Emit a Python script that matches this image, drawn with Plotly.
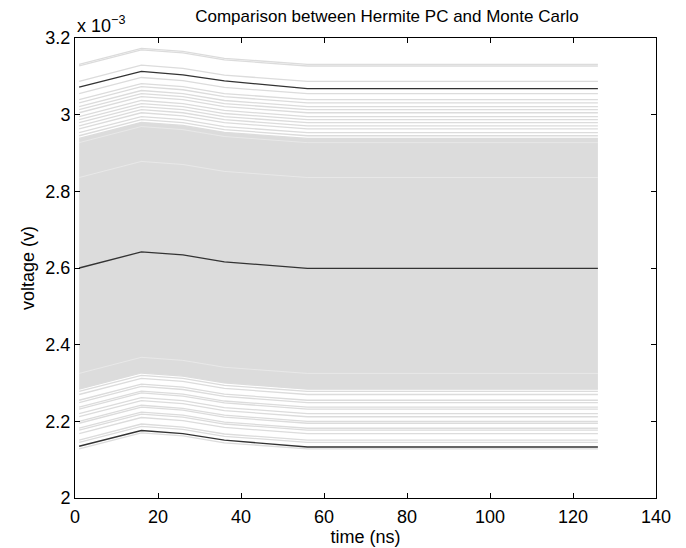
import plotly.graph_objects as go

# time samples (ns)
time_ns = [1, 16, 26, 36, 56, 126]
# common transient shape (offset from settled level, x1e-3 V)
shape_offset = [0.0, 0.042, 0.034, 0.016, 0.0, 0.0]

# Hermite PC curves (x1e-3 V)
pc_mean = [2.600, 2.642, 2.634, 2.616, 2.599, 2.599]
pc_upper = [3.072, 3.113, 3.104, 3.088, 3.068, 3.068]
pc_lower = [2.135, 2.176, 2.168, 2.151, 2.133, 2.133]

# Monte Carlo sample settled levels (x1e-3 V), outer sparse samples
mc_levels_upper = [3.131, 3.127, 3.087, 3.055, 3.039, 3.031, 3.021, 3.013, 3.005,
                   2.995, 2.987, 2.979, 2.971, 2.963, 2.953, 2.945]
mc_levels_lower = [2.278, 2.270, 2.255, 2.249, 2.237, 2.232, 2.220, 2.212, 2.200,
                   2.195, 2.182, 2.177, 2.168, 2.151, 2.145, 2.128]
# dense core of the Monte Carlo band
mc_core_top = 2.938
mc_core_bottom = 2.284
mc_core_gaps = [2.927, 2.836, 2.325]

GRAY = "#dcdcdc"
FONT = "Liberation Sans"

fig = go.Figure()


def level_curve(level):
    return [level + s for s in shape_offset]


# dense core band
fig.add_trace(go.Scatter(x=time_ns, y=level_curve(mc_core_bottom), mode="lines",
                         line=dict(color=GRAY, width=1.2), showlegend=False,
                         hoverinfo="skip"))
fig.add_trace(go.Scatter(x=time_ns, y=level_curve(mc_core_top), mode="lines",
                         line=dict(color=GRAY, width=1.2), fill="tonexty",
                         fillcolor=GRAY, showlegend=False, hoverinfo="skip"))
for g in mc_core_gaps:
    fig.add_trace(go.Scatter(x=time_ns, y=level_curve(g), mode="lines",
                             line=dict(color="rgba(255,255,255,0.5)", width=0.7),
                             showlegend=False, hoverinfo="skip"))

for lv in mc_levels_upper + mc_levels_lower:
    fig.add_trace(go.Scatter(x=time_ns, y=level_curve(lv), mode="lines",
                             line=dict(color=GRAY, width=1.3), showlegend=False,
                             hoverinfo="skip"))

for series in (pc_upper, pc_mean, pc_lower):
    fig.add_trace(go.Scatter(x=time_ns, y=series, mode="lines",
                             line=dict(color="#333333", width=1.3), showlegend=False))

axis_common = dict(showgrid=False, zeroline=False, showline=True, linecolor="black",
                   linewidth=1, mirror="allticks", ticks="inside", ticklen=5,
                   tickcolor="black", automargin=False,
                   tickfont=dict(family=FONT, size=18, color="black"))

fig.update_xaxes(range=[0, 140], tickvals=[0, 20, 40, 60, 80, 100, 120, 140],
                 ticklabelstandoff=2,
                 title=dict(text="time (ns)", font=dict(family=FONT, size=18,
                                                        color="black"), standoff=2),
                 **axis_common)
fig.update_yaxes(range=[2, 3.2], tickvals=[2, 2.2, 2.4, 2.6, 2.8, 3, 3.2],
                 ticktext=["2", "2.2", "2.4", "2.6", "2.8", "3", "3.2"],
                 title=dict(text="voltage (v)", font=dict(family=FONT, size=18,
                                                          color="black"), standoff=6),
                 **axis_common)

fig.update_layout(
    width=678, height=540,
    margin=dict(l=67, r=30, t=30, b=50),
    plot_bgcolor="white", paper_bgcolor="white",
    title=dict(text="Comparison between Hermite PC and Monte Carlo",
               x=0.559, xanchor="center", y=0.996, yanchor="top",
               font=dict(family=FONT, size=17, color="black")),
    annotations=[dict(text="x 10<sup>−3</sup>", xref="paper", yref="paper",
                      x=0.0, y=1.0, xanchor="left", yanchor="bottom", yshift=0,
                      showarrow=False,
                      font=dict(family=FONT, size=18, color="black"))],
)

fig.write_html("out.html")
